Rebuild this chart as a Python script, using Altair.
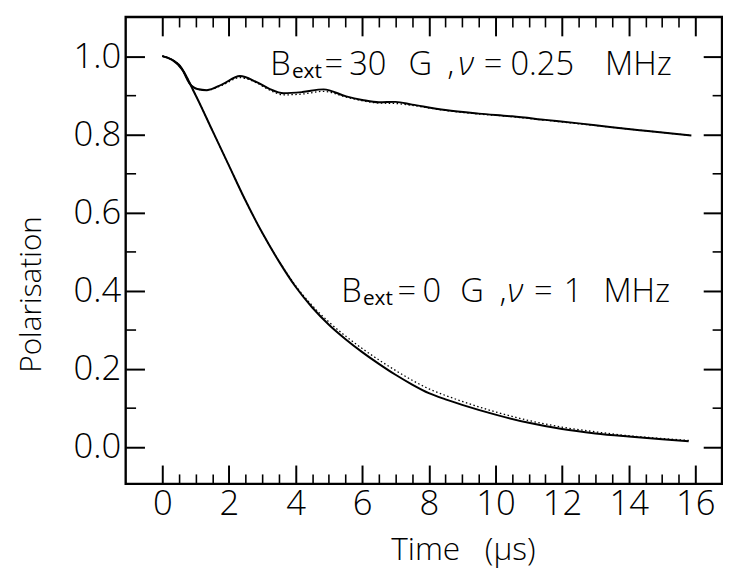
import altair as alt
import pandas as pd

# ---- data ----
# B_ext = 0 G, nu = 1 MHz : solid (data) and dotted (fit)
t_low = [0, 0.5, 1.0, 1.5, 2.0, 2.5, 3.0, 3.5, 4.0, 4.5, 5.0, 5.5, 6.0, 6.5, 7.0, 7.5,
         8.0, 8.5, 9.0, 10.0, 11.0, 12.0, 13.0, 14.0, 15.0, 15.8]
p_low = [1.0, 0.978, 0.9, 0.81, 0.72, 0.63, 0.548, 0.475, 0.41, 0.357, 0.313, 0.276, 0.243,
         0.213, 0.185, 0.16, 0.138, 0.122, 0.108, 0.083, 0.062, 0.046, 0.035, 0.027, 0.02, 0.015]
p_low_fit = [1.0, 0.978, 0.9, 0.81, 0.72, 0.63, 0.548, 0.476, 0.413, 0.362, 0.32, 0.284, 0.252,
             0.223, 0.196, 0.171, 0.149, 0.132, 0.117, 0.09, 0.068, 0.051, 0.039, 0.029, 0.022, 0.017]

# B_ext = 30 G, nu = 0.25 MHz : solid (data) and dotted (fit)
t_up = [0, 0.3, 0.6, 0.81, 1.05, 1.34, 1.8, 2.33, 2.8, 3.2, 3.64, 4.2, 4.84, 5.52, 6.0, 6.5,
        7.0, 7.5, 8.5, 9.5, 10.5, 11.5, 12.5, 13.5, 14.5, 15.88]
p_up = [1.0, 0.99, 0.965, 0.931, 0.916, 0.913, 0.928, 0.949, 0.935, 0.917, 0.905, 0.908, 0.915,
        0.897, 0.888, 0.882, 0.883, 0.876, 0.862, 0.853, 0.846, 0.837, 0.828, 0.818, 0.809, 0.797]
p_up_fit = [1.0, 0.99, 0.965, 0.931, 0.916, 0.913, 0.926, 0.945, 0.933, 0.914, 0.901, 0.903, 0.91,
            0.895, 0.886, 0.88, 0.879, 0.874, 0.861, 0.852, 0.845, 0.836, 0.827, 0.818, 0.809, 0.797]

# axis ticks
x_major = [0, 2, 4, 6, 8, 10, 12, 14, 16]
x_minor = [v / 2 for v in range(1, 32) if v % 4 != 0]
y_major = [0.0, 0.2, 0.4, 0.6, 0.8, 1.0]
y_minor = [0.1, 0.3, 0.5, 0.7, 0.9]

# annotations: text pieces placed in data coordinates (baseline level)
up_text = ["B", "=", "30", "G", ",", "=", "0.25", "MHz"]
up_x = [3.24, 4.87, 5.61, 7.39, 8.55, 9.65, 10.45, 13.29]
up_y = 0.952
low_text = ["B", "=", "0", "G", ",", "=", "1", "MHz"]
low_x = [5.37, 7.06, 7.81, 8.94, 10.12, 11.16, 12.05, 13.24]
low_y = 0.372
nu_x = [8.88, 10.36]
sub_x = [3.89, 6.02]

# ---- build tables ----
solid_df = pd.concat([
    pd.DataFrame({"t": t_low, "p": p_low, "series": "low"}),
    pd.DataFrame({"t": t_up, "p": p_up, "series": "up"}),
])
fit_df = pd.concat([
    pd.DataFrame({"t": t_low, "p": p_low_fit, "series": "low"}),
    pd.DataFrame({"t": t_up, "p": p_up_fit, "series": "up"}),
])
main_df = pd.DataFrame({"x": up_x + low_x, "y": [up_y] * len(up_x) + [low_y] * len(low_x),
                        "text": up_text + low_text})
nu_df = pd.DataFrame({"x": nu_x, "y": [up_y, low_y], "text": ["ν", "ν"]})
sub_df = pd.DataFrame({"x": sub_x, "y": [up_y, low_y], "text": ["ext", "ext"]})

FONT = "Open Sans"
FW = 300
LFS = 35   # tick labels
AFS = 33   # annotations
W, H = 603, 472
xs = alt.Scale(domain=[-1.1, 16.8], nice=False, zero=False)
ys = alt.Scale(domain=[-0.094, 1.10], nice=False, zero=False)


def tick_axis(orient, values, size, width):
    return alt.Axis(orient=orient, values=values, tickSize=size, offset=-size, tickWidth=width,
                    tickColor="black", domain=False, labels=False, grid=False, title=None)


x_lab = alt.Axis(orient="bottom", values=x_major, format="d", ticks=False, domain=False, grid=False,
                 labelFont=FONT, labelFontSize=LFS, labelFontWeight=FW, labelColor="black",
                 labelPadding=3,
                 title="Time\u00a0\u00a0\u00a0(μs)", titleFont=FONT, titleFontSize=32,
                 titleFontWeight=FW, titleColor="black", titleX=341, titleY=52)
y_lab = alt.Axis(orient="left", values=y_major, format=".1f", ticks=False, domain=False, grid=False,
                 labelFont=FONT, labelFontSize=LFS, labelFontWeight=FW, labelColor="black",
                 labelPadding=5,
                 title="Polarisation", titleFont=FONT, titleFontSize=30, titleFontWeight=FW,
                 titleColor="black", titleX=-80, titleY=280)

solid = alt.Chart(solid_df).mark_line(color="black", strokeWidth=2, interpolate="monotone").encode(
    x=alt.X("t:Q", scale=xs, axis=x_lab),
    y=alt.Y("p:Q", scale=ys, axis=y_lab),
    detail="series:N",
)

fit = alt.Chart(fit_df).mark_line(color="black", strokeWidth=1.3, strokeDash=[1.5, 2.5],
                                  interpolate="monotone").encode(
    x=alt.X("t:Q", scale=xs, axis=tick_axis("bottom", x_major, 19, 2)),
    y=alt.Y("p:Q", scale=ys, axis=tick_axis("left", y_major, 19, 2)),
    detail="series:N",
)


def ghost(xax, yax):
    return alt.Chart(solid_df).mark_line(strokeOpacity=0).encode(
        x=alt.X("t:Q", scale=xs, axis=xax),
        y=alt.Y("p:Q", scale=ys, axis=yax),
        detail="series:N",
    )


g1 = ghost(tick_axis("bottom", x_minor, 10, 1.6), tick_axis("left", y_minor, 10, 1.6))
g2 = ghost(tick_axis("top", x_major, 19, 2), tick_axis("right", y_major, 19, 2))
g3 = ghost(tick_axis("top", x_minor, 10, 1.6), tick_axis("right", y_minor, 10, 1.6))

main_txt = alt.Chart(main_df).mark_text(font=FONT, fontSize=AFS, fontWeight=FW, align="left",
                                        baseline="alphabetic", color="black").encode(
    x=alt.X("x:Q", scale=xs, axis=None), y=alt.Y("y:Q", scale=ys, axis=None), text="text:N")
nu_txt = alt.Chart(nu_df).mark_text(font=FONT, fontSize=AFS, fontWeight=FW, fontStyle="italic",
                                    align="left", baseline="alphabetic", color="black").encode(
    x=alt.X("x:Q", scale=xs, axis=None), y=alt.Y("y:Q", scale=ys, axis=None), text="text:N")
sub_txt = alt.Chart(sub_df).mark_text(font=FONT, fontSize=21, fontWeight="normal", align="left",
                                      baseline="alphabetic", dy=3, color="black").encode(
    x=alt.X("x:Q", scale=xs, axis=None), y=alt.Y("y:Q", scale=ys, axis=None), text="text:N")

chart = alt.layer(solid, fit, g1, g2, g3, main_txt, nu_txt, sub_txt).resolve_axis(
    x="independent", y="independent"
).properties(
    width=W, height=H,
    autosize=alt.AutoSizeParams(type="none"),
    padding={"left": 119, "top": 6, "right": 1, "bottom": 85},
).configure(background="white").configure_view(stroke="black", strokeWidth=2.4)

chart.save("out.html", embed_options={"renderer": "svg", "actions": False})
